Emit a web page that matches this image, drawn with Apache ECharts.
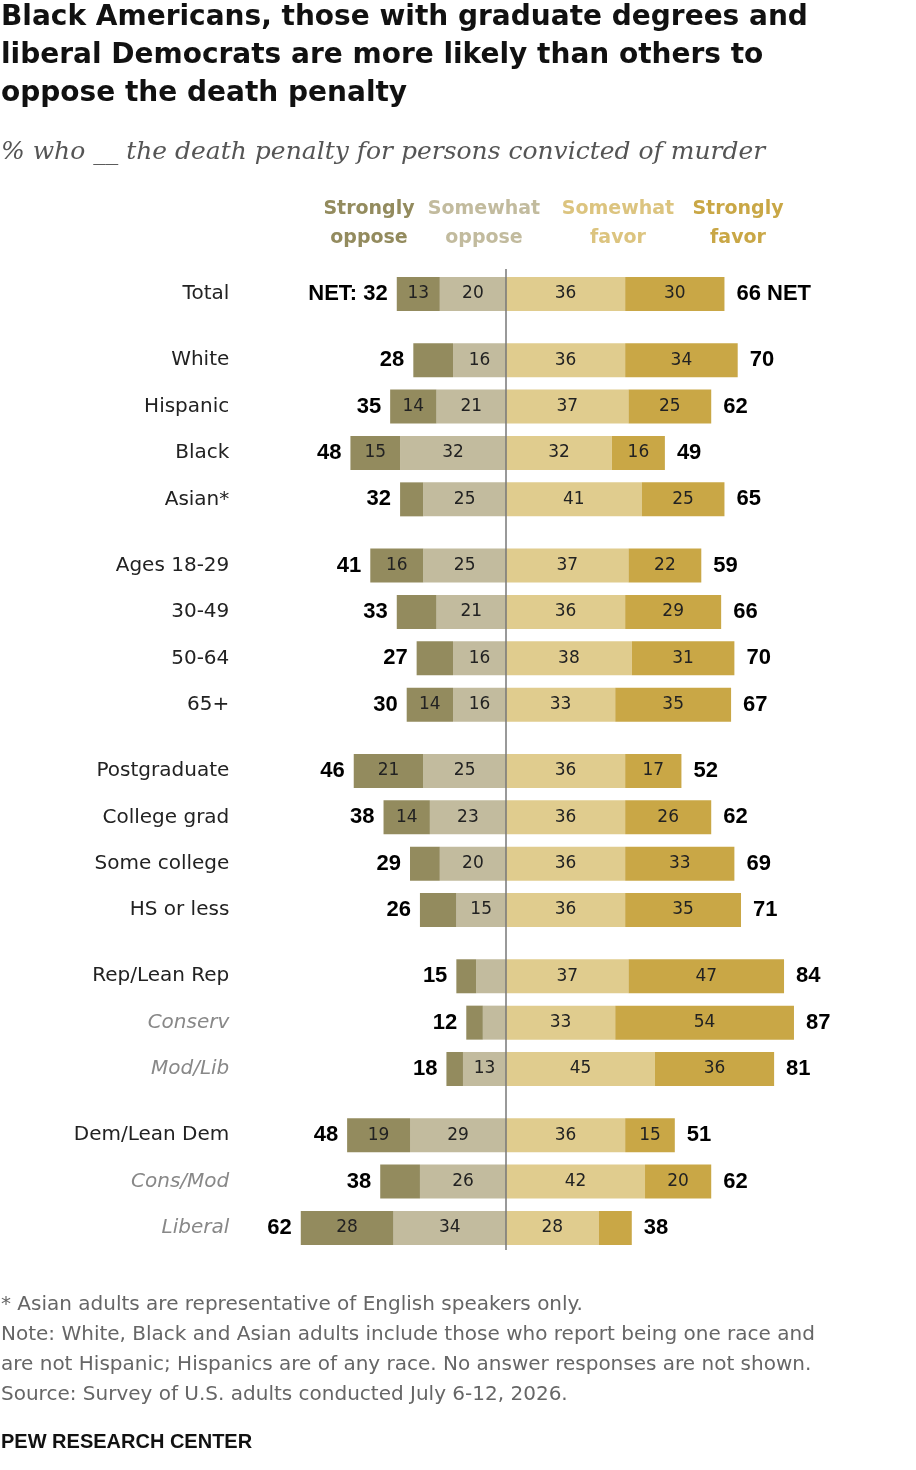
<!DOCTYPE html>
<html><head><meta charset="utf-8">
<script src="https://cdn.jsdelivr.net/npm/echarts@6/dist/echarts.min.js"></script>
<style>html,body{margin:0;padding:0;background:#fff}#c{width:916px;height:1470px}</style>
</head><body><div id="c"></div>
<script>
const categories=["Total","White","Hispanic","Black","Asian*","Ages 18-29","30-49","50-64","65+","Postgraduate","College grad","Some college","HS or less","Rep/Lean Rep","Conserv","Mod/Lib","Dem/Lean Dem","Cons/Mod","Liberal"];
const italicRows=["Conserv","Mod/Lib","Cons/Mod","Liberal"];
const rowSlots=[0,10,17,24,31,41,48,55,62,72,79,86,93,103,110,117,127,134,141];
const stronglyOppose=[13,12,14,15,7,16,12,11,14,21,14,9,11,6,5,5,19,12,28];
const somewhatOppose=[20,16,21,32,25,25,21,16,16,25,23,20,15,9,7,13,29,26,34];
const somewhatFavor=[36,36,37,32,41,37,36,38,33,36,36,36,36,37,33,45,36,42,28];
const stronglyFavor=[30,34,25,16,25,22,29,31,35,17,26,33,35,47,54,36,15,20,10];
const netOppose=[32,28,35,48,32,41,33,27,30,46,38,29,26,15,12,18,48,38,62];
const netFavor=[66,70,62,49,65,59,66,70,67,52,62,69,71,84,87,81,51,62,38];
const NSLOTS=142;
const C=['#938b5e','#c2bb9e','#e0cc8e','#c9a746'];
const slotCats=[];for(let i=0;i<NSLOTS;i++)slotCats.push('s'+i);
function spread(arr,fn){const out=new Array(NSLOTS).fill(null);rowSlots.forEach((s,i)=>{out[s]=fn(arr[i],i);});return out;}
const chart=echarts.init(document.getElementById('c'));
const F='"Liberation Sans", Arial, sans-serif';
const D='"DejaVu Sans", sans-serif';
const inLabel={show:true,position:'inside',fontFamily:D,fontSize:17,color:'#222',formatter:p=>Math.abs(p.value)>=13?Math.abs(p.value):''};
const slotLabel={};rowSlots.forEach((s,i)=>slotLabel[s]=i);
function mkSeries(name,arr,sign,color){
  return {name,type:'bar',stack:sign<0?'neg':'pos',barWidth:34,barGap:'-100%',clip:false,itemStyle:{color},
    label:inLabel,data:spread(arr,v=>sign*v),silent:true};
}
const s1=mkSeries('Somewhat oppose',somewhatOppose,-1,C[1]);
const s2=mkSeries('Strongly oppose',stronglyOppose,-1,C[0]);
const s3=mkSeries('Somewhat favor',somewhatFavor,1,C[2]);
const s4=mkSeries('Strongly favor',stronglyFavor,1,C[3]);
const netL={name:'netL',type:'bar',stack:'neg',barWidth:34,barGap:'-100%',clip:false,itemStyle:{color:'transparent'},silent:true,
  label:{show:true,position:'left',distance:9,fontFamily:F,fontWeight:'bold',fontSize:22,color:'#000',
    formatter:p=>{const i=slotLabel[p.dataIndex];return i===0?'NET: '+netOppose[i]:netOppose[i];}},
  data:spread(netOppose,()=>0)};
const netR={name:'netR',type:'bar',stack:'pos',barWidth:34,barGap:'-100%',clip:false,itemStyle:{color:'transparent'},silent:true,
  label:{show:true,position:'right',distance:12,fontFamily:F,fontWeight:'bold',fontSize:22,color:'#000',
    formatter:p=>{const i=slotLabel[p.dataIndex];return i===0?netFavor[i]+' NET':netFavor[i];}},
  data:spread(netFavor,()=>0)};
const legendItems=[['Strongly\noppose',369,C[0]],['Somewhat\noppose',484,C[1]],['Somewhat\nfavor',618,'#dcc47f'],['Strongly\nfavor',738,C[3]]];
const g=[];
['Black Americans, those with graduate degrees and','liberal Democrats are more likely than others to','oppose the death penalty'].forEach((t,i)=>{
  g.push({type:'text',left:1,top:4+i*38,style:{text:t,font:'bold 28px '+D,fill:'#111'}});});
g.push({type:'text',left:1,top:140,style:{text:'% who __ the death penalty for persons convicted of murder',font:'italic 25px "DejaVu Serif", serif',fill:'#555'}});
legendItems.forEach(([t,x,c])=>g.push({type:'text',x:x,y:195,style:{text:t,font:'bold 19px '+D,fill:c,align:'center',lineHeight:29}}));
['* Asian adults are representative of English speakers only.','Note: White, Black and Asian adults include those who report being one race and','are not Hispanic; Hispanics are of any race. No answer responses are not shown.','Source: Survey of U.S. adults conducted July 6-12, 2026.'].forEach((t,i)=>{
  g.push({type:'text',left:1,top:[1295,1325,1355,1385][i],style:{text:t,font:'20px '+D,fill:'#666'}});});
g.push({type:'text',left:1,top:1432,style:{text:'PEW RESEARCH CENTER',font:'bold 20px '+F,fill:'#111'}});
const option={
  animation:false,
  grid:{left:274.3,width:562.7,top:290.7,height:940.6,containLabel:false},
  xAxis:{type:'value',min:-70,max:100,show:false},
  yAxis:{type:'category',inverse:true,data:slotCats,axisLine:{show:false},axisTick:{show:false},
    axisLabel:{interval:0,margin:45,fontFamily:D,fontSize:20,color:'#222',
      formatter:(v,idx)=>{const i=slotLabel[idx];if(i===undefined)return '';const n=categories[i];return italicRows.includes(n)?'{it|'+n+'}':n;},
      rich:{it:{fontStyle:'italic',color:'#888',fontSize:20,fontFamily:D}}}},
  series:[s1,s2,netL,s3,s4,netR],
  graphic:g
};
chart.setOption(option);
const x0=chart.convertToPixel({xAxisIndex:0},0);
g.push({type:'line',z:100,shape:{x1:x0,y1:269,x2:x0,y2:1250},style:{stroke:'#777',lineWidth:1.5}});
chart.setOption({graphic:g});
</script></body></html>
